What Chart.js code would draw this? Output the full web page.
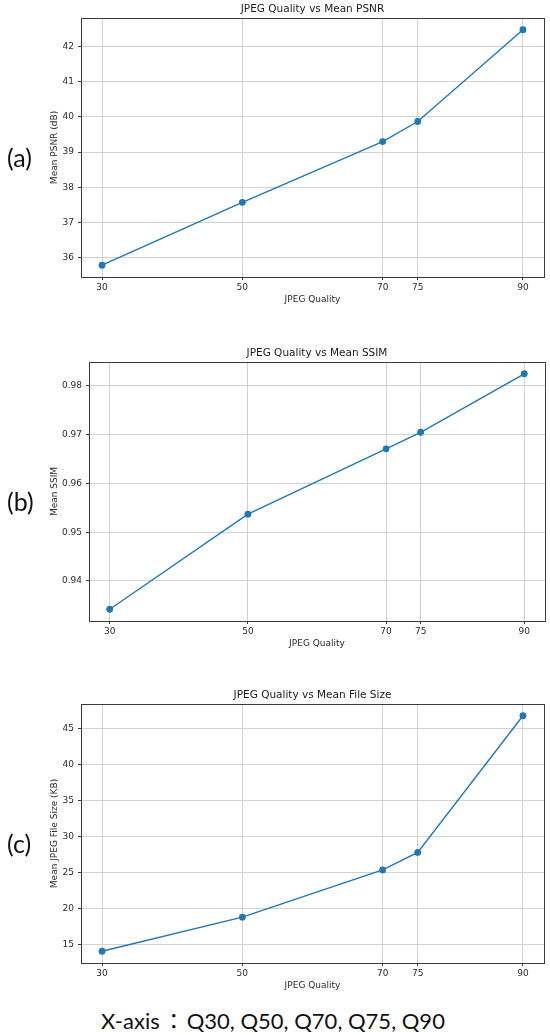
<!DOCTYPE html>
<html>
<head>
<meta charset="utf-8">
<script src="https://cdn.jsdelivr.net/npm/chart.js@4.4.1/dist/chart.umd.min.js"></script>
<style>
  body { margin: 0; background: #fff; }
  #page { position: relative; width: 550px; height: 1035px; overflow: hidden; }
  .box { position: absolute; left: 0; width: 550px; height: 307px; }
  .tag { position: absolute; left: 7px; font: 25px Lato, "Noto Sans", sans-serif; line-height: 24px; color: #111; }
  #caption { position: absolute; left: 0; width: 546px; top: 1004px; text-align: center;
             font: 22px Lato, "Noto Sans CJK JP", sans-serif; line-height: 30px; color: #111; }
  #caption .colon { font-family: "Noto Sans CJK JP"; margin: 0 2px 0 3px; }
</style>
</head>
<body>
<div id="page">
  <div class="box" style="top:0px"><canvas id="psnrChart"></canvas></div>
  <div class="box" style="top:343.5px"><canvas id="ssimChart"></canvas></div>
  <div class="box" style="top:686px"><canvas id="sizeChart"></canvas></div>
  <div class="tag" style="top:145px">(a)</div>
  <div class="tag" style="top:489px">(b)</div>
  <div class="tag" style="top:831px">(c)</div>
  <div id="caption">X-axis<span class="colon">：</span>Q30, Q50, Q70, Q75, Q90</div>
</div>
<script>
// データ
const quality = [30, 50, 70, 75, 90]
const psnr = [35.78, 37.57, 39.30, 39.87, 42.48]
const ssim = [0.9342, 0.9537, 0.9671, 0.9705, 0.9825]
const fileSize = [14.07, 18.80, 25.37, 27.80, 46.80]

const psnrTicks = [36, 37, 38, 39, 40, 41, 42]
const ssimTicks = [0.94, 0.95, 0.96, 0.97, 0.98]
const sizeTicks = [15, 20, 25, 30, 35, 40, 45]

const BLUE = '#1f77b4'
const FONT = 'DejaVu Sans'

// matplotlibと同じく5%の余白
function padRange(arr) {
  const lo = Math.min(...arr), hi = Math.max(...arr)
  const m = (hi - lo) * 0.05
  return [lo - m, hi + m]
}

// 枠線（四辺）を描く
const frame = {
  id: 'frame',
  afterDatasetsDraw(chart) {
    const {ctx, chartArea: a} = chart
    ctx.save()
    ctx.strokeStyle = '#3a3a3a'
    ctx.lineWidth = 1
    ctx.strokeRect(Math.round(a.left) + 0.5, Math.round(a.top) + 0.5,
                   Math.round(a.right - a.left), Math.round(a.bottom - a.top))
    ctx.restore()
  }
}

function drawChart(id, title, yTitle, values, yTicks, yAxisWidth, padRight) {
  const [yMin, yMax] = padRange(values)
  const [xMin, xMax] = padRange(quality)
  const ctx = document.getElementById(id).getContext('2d')
  return new Chart(ctx, {
    type: 'line',
    data: {
      datasets: [{
        data: quality.map((q, i) => ({x: q, y: values[i]})),
        borderColor: BLUE,
        backgroundColor: BLUE,
        borderWidth: 1.4,
        pointRadius: 3.4,
        pointBorderWidth: 0,
        pointBackgroundColor: BLUE,
        tension: 0
      }]
    },
    options: {
      responsive: false,
      animation: false,
      events: [],
      layout: { padding: { left: 45, right: padRight, top: 0, bottom: 0 } },
      plugins: {
        legend: { display: false },
        tooltip: { enabled: false },
        title: {
          display: true,
          text: title,
          fullSize: false,
          color: '#1a1a1a',
          font: { family: FONT, size: 10.5, weight: 'normal', lineHeight: 1.2 },
          padding: { top: 3.2, bottom: 2.2 }
        }
      },
      scales: {
        x: {
          type: 'linear',
          min: xMin,
          max: xMax,
          afterBuildTicks: s => { s.ticks = quality.map(v => ({value: v})) },
          afterFit: s => { s.height = 30 },
          ticks: { autoSkip: false, maxRotation: 0, padding: 2.5, color: '#2a2a2a',
                   font: { family: FONT, size: 9 } },
          grid: { color: '#d2d2d2', lineWidth: 1, drawTicks: true, tickLength: 3, tickColor: '#3a3a3a' },
          border: { display: false },
          title: { display: true, text: 'JPEG Quality', color: '#2a2a2a',
                   font: { family: FONT, size: 9 }, padding: { top: 0, bottom: 1.6 } }
        },
        y: {
          type: 'linear',
          min: yMin,
          max: yMax,
          afterBuildTicks: s => { s.ticks = yTicks.map(v => ({value: v})) },
          afterFit: s => { s.width = yAxisWidth },
          ticks: { padding: 4, color: '#2a2a2a', font: { family: FONT, size: 9 } },
          grid: { color: '#d2d2d2', lineWidth: 1, drawTicks: true, tickLength: 3, tickColor: '#3a3a3a' },
          border: { display: false },
          title: { display: true, text: yTitle, color: '#2a2a2a',
                   font: { family: FONT, size: 9 }, padding: { top: 4.6, bottom: 0 } }
        }
      }
    },
    plugins: [frame]
  })
}

for (const id of ['psnrChart', 'ssimChart', 'sizeChart']) {
  const c = document.getElementById(id)
  c.width = 550
  c.height = 307
}

drawChart('psnrChart', 'JPEG Quality vs Mean PSNR', 'Mean PSNR (dB)', psnr, psnrTicks, 36, 6)
drawChart('ssimChart', 'JPEG Quality vs Mean SSIM', 'Mean SSIM', ssim, ssimTicks, 44, 5)
drawChart('sizeChart', 'JPEG Quality vs Mean File Size', 'Mean JPEG File Size (KB)', fileSize, sizeTicks, 36, 6)
</script>
</body>
</html>
